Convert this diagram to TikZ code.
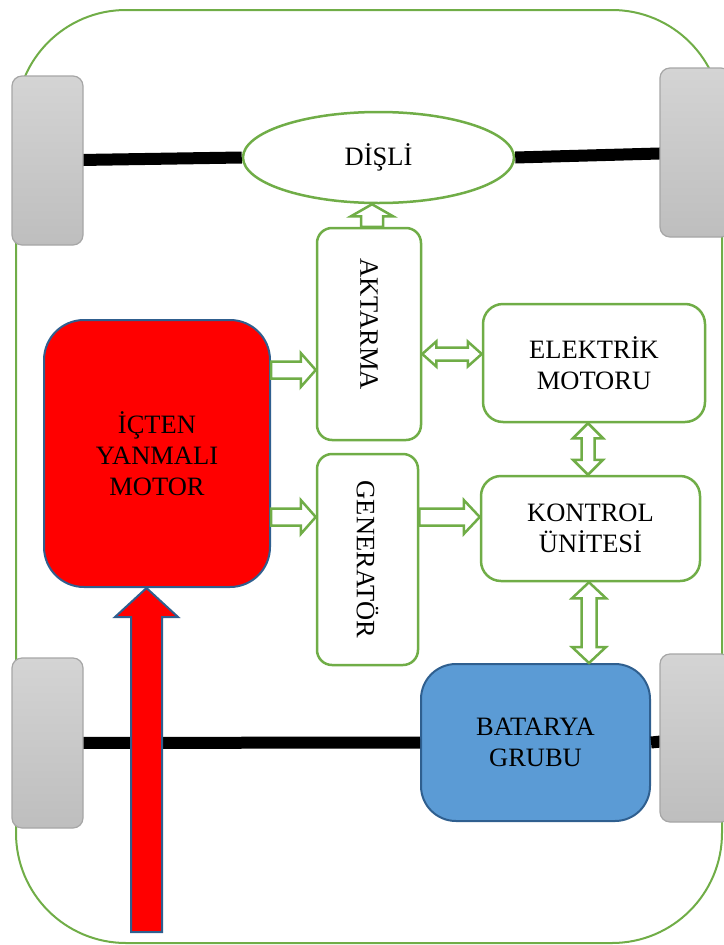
\documentclass[tikz,border=0pt]{standalone}
\usepackage{fontspec}
\usepackage{graphicx}
\setmainfont{Liberation Serif}
\usetikzlibrary{calc,shapes.geometric}

\definecolor{leaf}{HTML}{70AD47}
\definecolor{navy}{HTML}{2F5F8F}
\definecolor{steel}{HTML}{5B9BD5}
\definecolor{tyreline}{HTML}{A6A6A6}
\definecolor{tyretop}{HTML}{D4D4D4}
\definecolor{tyrebot}{HTML}{BEBEBE}

% rightward block arrow: #2 tail, #3 tip, #4 half shaft, #5 half head, #6 head length
\newcommand\blkright[6][blockarrow]{%
  \draw[#1] let \p1=(#2), \p2=(#3) in
    (\x1,\y1+#4) -- (\x2-#6,\y1+#4) -- (\x2-#6,\y1+#5) -- (\x2,\y1)
    -- (\x2-#6,\y1-#5) -- (\x2-#6,\y1-#4) -- (\x1,\y1-#4) -- cycle;}
% upward block arrow
\newcommand\blkup[6][blockarrow]{%
  \draw[#1] let \p1=(#2), \p2=(#3) in
    (\x1-#4,\y1) -- (\x1-#4,\y2-#6) -- (\x1-#5,\y2-#6) -- (\x1,\y2)
    -- (\x1+#5,\y2-#6) -- (\x1+#4,\y2-#6) -- (\x1+#4,\y1) -- cycle;}
% horizontal double block arrow (left to right)
\newcommand\blkhh[6][blockarrow]{%
  \draw[#1] let \p1=(#2), \p2=(#3) in
    (\x1,\y1) -- (\x1+#6,\y1+#5) -- (\x1+#6,\y1+#4) -- (\x2-#6,\y1+#4)
    -- (\x2-#6,\y1+#5) -- (\x2,\y1) -- (\x2-#6,\y1-#5) -- (\x2-#6,\y1-#4)
    -- (\x1+#6,\y1-#4) -- (\x1+#6,\y1-#5) -- cycle;}
% vertical double block arrow (top to bottom)
\newcommand\blkvv[6][blockarrow]{%
  \draw[#1] let \p1=(#2), \p2=(#3) in
    (\x1,\y1) -- (\x1+#5,\y1-#6) -- (\x1+#4,\y1-#6) -- (\x1+#4,\y2+#6)
    -- (\x1+#5,\y2+#6) -- (\x1,\y2) -- (\x1-#5,\y2+#6) -- (\x1-#4,\y2+#6)
    -- (\x1-#4,\y1-#6) -- (\x1-#5,\y1-#6) -- cycle;}

\begin{document}
\begin{tikzpicture}[x=1pt,y=-1pt,
  font=\fontsize{26.5}{31}\selectfont,
  body/.style={draw=leaf,line width=2pt,rounded corners=110pt},
  axle/.style={line width=12pt,black},
  tyre/.style={draw=tyreline,line width=1.2pt,rounded corners=10pt,
    top color=tyretop,bottom color=tyrebot,minimum width=71pt,inner sep=0pt},
  gbox/.style={draw=leaf,line width=2.5pt,fill=white,align=center,inner sep=0pt},
  blockarrow/.style={draw=leaf,line width=2.5pt,fill=white,line join=miter},
  redarrow/.style={draw=navy,line width=2pt,fill=red,line join=miter},
]
\useasboundingbox (0,0) rectangle (723,945);

% car body outline
\draw[body] (16,10) rectangle (722,943);

% wheel positions
\coordinate (ltc) at (47.5,160.5);
\coordinate (rtc) at (695.5,152.5);
\coordinate (lbc) at (47.5,743);
\coordinate (rbc) at (695.5,738);

\node[gbox,ellipse,minimum width=271pt,minimum height=91pt] (gear) at (378.5,157.5) {DİŞLİ};
\node[draw=navy,line width=2pt,fill=steel,rounded corners=35pt,align=center,
  minimum width=229pt,minimum height=157pt] (bat) at (535.5,742.5) {BATARYA\\GRUBU};

% axles, drawn first so the wheels cover their ends
\draw[axle] (ltc) -- (gear.west);
\draw[axle] (gear.east) -- (rtc);
\draw[axle] (lbc) -- (bat.west);
\draw[axle] (bat.east) -- (rbc);

% wheels
\node[tyre,minimum height=169pt] (lt) at (ltc) {};
\node[tyre,minimum height=169pt] (rt) at (rtc) {};
\node[tyre,minimum height=170pt] (lb) at (lbc) {};
\node[tyre,minimum height=168pt] (rb) at (rbc) {};

% green blocks
\node[gbox,rounded corners=15pt,minimum width=104pt,minimum height=212pt] (akt) at (369,334)
  {\rotatebox{-90}{AKTARMA\kern20pt}};
\node[gbox,rounded corners=15pt,minimum width=101pt,minimum height=211pt] (gen) at (367.5,559.5)
  {\rotatebox{-90}{GENERATÖR}};
\node[gbox,rounded corners=20pt,minimum width=222pt,minimum height=118pt] (elk) at (594,363)
  {ELEKTRİK\\MOTORU};
\node[gbox,rounded corners=20pt,minimum width=219pt,minimum height=105pt] (kon) at (590.5,528.5)
  {KONTROL\\ÜNİTESİ};

% combustion engine
\node[draw=navy,line width=2pt,fill=red,rounded corners=40pt,align=center,
  minimum width=226pt,minimum height=267pt] (ice) at (157,453.5) {İÇTEN\\YANMALI\\MOTOR};

% power flow arrows
\blkright{ice.east |- 0,370}{akt.west |- 0,370}{8.5pt}{17pt}{15pt}
\blkright{ice.east |- 0,517}{gen.west |- 0,517}{8.5pt}{17pt}{15pt}
\blkright{gen.east |- 0,517}{kon.west |- 0,517}{8.5pt}{17pt}{16pt}
\blkup{$(akt.north)+(3,0)$}{$(akt.north |- gear.south)+(3,0)$}{11pt}{21pt}{12pt}
\blkhh{akt.east |- 0,354}{elk.west |- 0,354}{6.5pt}{12.5pt}{14pt}
\blkvv{elk.south -| 588,0}{kon.north -| 588,0}{6.5pt}{15pt}{15pt}
\blkvv{kon.south -| 589,0}{bat.north -| 589,0}{7.5pt}{17pt}{16pt}

% fuel input
\coordinate (fuel) at (146.5,932);
\blkup[redarrow]{fuel}{ice.south -| fuel}{15.5pt}{31.5pt}{29pt}
\end{tikzpicture}
\end{document}
